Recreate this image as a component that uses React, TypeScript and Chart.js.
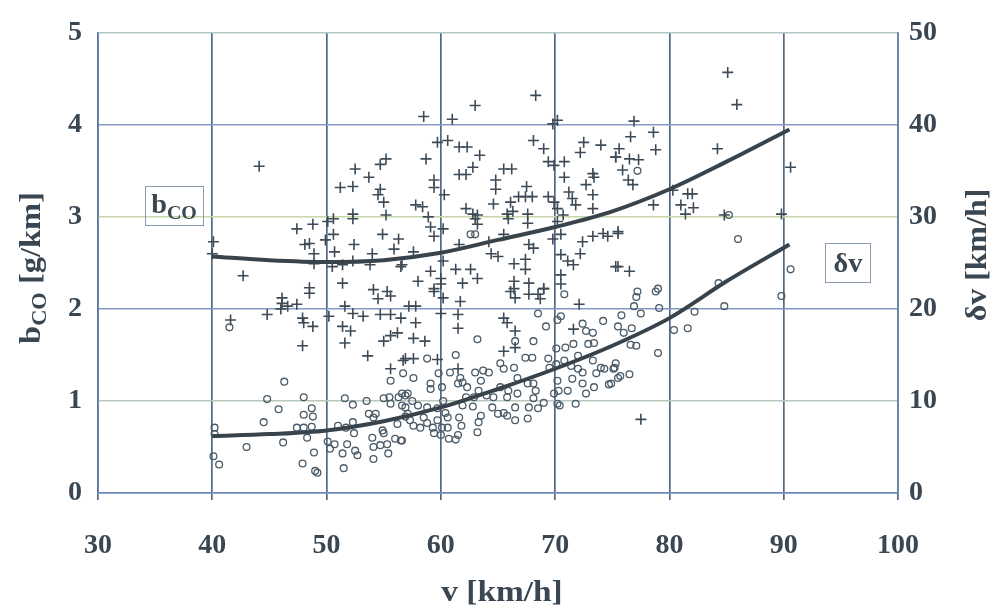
import React, { useEffect, useRef } from "react";
import { Chart, registerables } from "chart.js";
Chart.register(...registerables);

// speed axis ticks (km/h)
const vTicks = [30, 40, 50, 60, 70, 80, 90, 100];
const bcoTicks = [0, 1, 2, 3, 4, 5];
const dvTicks = [0, 10, 20, 30, 40, 50];

// measured b_CO [g/km] (crosses): [v, bCO]
const bcoPoints: number[][] = [
  [44.1,3.55],[40.1,2.73],[42.7,2.36],[47.4,2.87],[48.8,2.92],[48.1,2.70],[48.5,2.71],[48.9,2.60],[48.9,2.49],
  [50.1,2.95],[50.6,2.98],[49.9,2.75],[50.6,2.81],[50.5,2.46],[50.7,2.62],[51.2,3.32],[52.3,3.33],[52.5,3.52],
  [53.7,3.43],[55.2,3.63],[54.7,3.57],[54.7,3.30],[54.5,3.24],[55.0,3.16],[52.3,3.03],[52.3,2.98],[55.2,3.02],
  [54.9,2.81],[52.4,2.70],[54.0,2.60],[53.8,2.48],[52.3,2.52],[51.4,2.48],[55.9,2.65],[56.3,2.76],[56.5,2.46],
  [51.4,2.28],[48.5,2.23],[48.5,2.17],[54.1,2.21],[55.3,2.19],[46.1,2.12],
  [41.6,1.88],[46.1,2.06],[46.0,2.00],[44.8,1.94],[47.4,2.05],[46.6,2.03],[47.9,1.90],[48.0,1.85],[48.8,1.81],
  [47.9,1.60],[50.2,1.92],[51.6,2.03],[51.4,1.81],[52.1,1.76],[51.6,1.63],[52.3,1.95],[53.2,1.92],[53.6,1.49],
  [54.5,2.11],[55.6,2.14],[54.7,1.94],[55.6,1.94],[55.0,1.65],[55.6,1.71],[56.2,1.74],[55.6,1.35],[56.7,1.44],
  [56.5,1.90],
  [68.3,4.32],[63.0,4.21],[58.5,4.09],[61.0,4.06],[70.2,4.05],[69.8,4.01],[59.7,3.81],[60.6,3.83],[61.6,3.76],
  [62.3,3.76],[63.4,3.67],[58.7,3.63],[62.8,3.54],[61.6,3.46],[62.2,3.46],[59.4,3.40],[59.4,3.32],[60.3,3.24],
  [65.5,3.52],[66.2,3.52],[64.8,3.40],[64.8,3.30],[68.1,3.83],[69.0,3.74],[69.4,3.60],[69.9,3.56],[70.8,3.60],
  [70.8,3.43],[72.5,3.81],[72.2,3.70],[74.0,3.78],[75.3,3.65],[73.3,3.47],[73.4,3.43],[72.7,3.35],[67.5,3.33],
  [66.8,3.22],[67.4,3.22],[68.0,3.22],[66.1,3.16],[64.6,3.14],[69.4,3.22],[69.9,3.16],[71.2,3.27],[71.5,3.20],
  [71.8,3.13],[73.3,3.24],[73.3,3.09],[57.8,3.13],[58.4,3.11],[58.9,3.00],[62.2,3.09],[62.8,3.03],[63.2,3.02],
  [65.8,3.03],[66.3,3.06],[65.9,2.98],[67.6,3.03],[67.6,2.93],[70.2,3.09],[70.7,3.02],[70.2,2.95],[59.1,2.89],
  [60.2,2.87],[59.4,2.79],[63.0,2.98],[63.2,2.92],[65.5,2.81],[64.2,2.73],[61.6,2.70],[67.7,2.70],[68.1,2.66],
  [69.8,2.76],[70.5,2.81],[72.4,2.73],[72.2,2.60],[73.3,2.79],[74.2,2.82],[74.6,2.79],[75.5,2.84],[57.6,2.62],
  [56.6,2.48],[60.2,2.52],[59.1,2.41],[61.3,2.43],[62.6,2.43],[64.4,2.60],[65.0,2.57],[66.4,2.49],[67.4,2.54],
  [67.4,2.43],[70.5,2.59],[71.1,2.52],[71.6,2.48],[75.5,2.46],[58.0,2.30],[59.4,2.22],[61.9,2.28],[63.2,2.33],
  [66.4,2.30],[67.7,2.28],[69.0,2.22],[70.5,2.37],[66.1,2.19],[68.5,2.16],[60.0,2.33],
  [60.0,2.27],[59.4,2.19],[60.2,2.12],[61.7,2.08],[57.2,2.03],[57.8,2.03],[60.0,1.95],[61.5,1.94],[61.5,1.79],
  [57.8,1.85],[57.6,1.68],[58.6,1.65],[56.9,1.46],[57.6,1.46],[59.7,1.45],[61.5,1.35],[65.5,1.90],[65.8,1.85],
  [66.5,1.76],[66.5,1.58],[65.5,1.54],[66.4,2.22],[66.5,2.12],[67.7,2.16],[69.0,2.22],[68.7,2.11],[70.5,2.27],
  [72.1,2.05],[71.6,1.78],
  [85.1,4.57],[85.9,4.22],[76.9,4.04],[76.6,3.87],[78.6,3.92],[78.8,3.73],[75.6,3.74],[75.3,3.65],[76.5,3.63],
  [77.3,3.62],[75.9,3.51],[76.4,3.40],[76.8,3.35],[84.2,3.74],[90.6,3.54],[78.6,3.13],[81.0,3.13],[82.1,3.10],
  [81.6,3.25],[82.0,3.25],[80.3,3.29],[81.4,3.03],[84.8,3.02],[89.8,3.03],[75.5,2.82],[75.3,2.46],[76.5,2.41],
  [77.5,0.80],[40.0,2.60]
];

// measured speed fluctuation δv [km/h] (circles): [v, δv]
const dvPoints: number[][] = [
  [41.5,18.0],[40.2,7.1],[40.2,6.4],[40.1,4.0],[40.6,3.1],[43.0,5.0],[44.5,7.7],[44.8,10.2],[45.8,9.1],[46.3,12.1],
  [46.2,5.5],[47.4,7.1],[48.0,7.1],[48.0,10.4],[48.0,8.5],[48.7,9.2],[48.8,8.3],[48.7,7.2],[48.3,6.0],[48.9,4.4],
  [47.9,3.2],[49.0,2.4],[49.2,2.2],[50.1,5.6],[50.3,4.8],[50.7,5.3],[51.0,7.3],[51.4,4.3],[51.5,2.7],[51.7,7.1],
  [51.8,5.3],[51.6,10.3],[52.3,9.6],[52.3,7.7],[52.4,6.5],[52.5,4.6],[52.7,4.1],[53.5,10.0],[53.7,8.6],[54.1,8.2],
  [54.0,6.0],[54.1,5.0],[54.1,3.7],[54.3,8.6],[54.9,6.8],[55.0,6.5],[54.7,5.2],[55.3,5.3],[55.4,4.3],[55.0,10.3],
  [55.5,10.4],[55.6,9.7],[55.6,12.2],[56.3,10.4],[56.6,9.5],[56.2,7.5],[56.5,5.7],[56.0,5.9],[56.7,13.0],[57.1,10.8],
  [56.9,8.3],
  [70.8,21.6],[68.5,19.5],[69.2,18.1],[70.2,18.8],[70.5,19.2],[72.4,18.4],[72.7,17.6],[73.3,17.4],[74.2,18.7],
  [72.9,16.2],[73.4,16.3],[71.6,16.2],[70.9,15.8],[70.1,15.7],[68.1,16.5],[67.4,14.7],[68.0,14.7],[66.5,16.5],
  [63.2,16.7],[61.3,15.0],[58.8,14.6],[57.6,12.5],[65.2,14.1],[65.5,13.5],[66.4,13.6],[69.4,14.6],[70.1,14.0],
  [69.5,13.6],[70.8,14.4],[71.4,13.8],[72.0,13.5],[72.4,13.1],[73.3,14.4],[74.0,13.6],[74.3,13.5],[75.1,13.5],
  [75.5,12.5],[73.6,13.0],[73.4,11.5],[74.7,11.8],[72.7,10.8],[71.8,9.7],[72.4,11.9],[71.5,12.4],[71.1,11.1],
  [70.2,12.2],[70.3,11.1],[69.9,10.8],[70.2,9.7],[70.4,9.5],[67.6,11.9],[68.1,11.9],[68.3,11.1],[68.1,10.3],
  [68.5,9.2],[67.7,9.3],[69.0,9.8],[67.6,8.1],[66.5,7.9],[66.7,12.5],[66.7,10.8],[66.5,9.3],[65.8,10.4],
  [65.9,11.1],[65.2,11.5],[64.6,10.4],[64.5,9.3],[65.0,8.6],[65.5,8.7],[65.8,8.4],[64.0,10.6],[64.2,13.1],
  [63.7,13.3],[63.0,13.1],[63.5,12.2],[63.3,11.1],[63.5,8.4],[63.3,7.7],[63.2,6.6],[62.9,10.4],[62.8,9.4],
  [62.2,10.4],[61.9,9.5],[62.3,11.5],[61.9,12.0],[61.5,11.9],[61.6,8.2],[61.8,7.3],[61.5,6.3],[61.3,5.8],
  [60.7,5.9],[60.6,7.1],[60.6,8.2],[60.1,7.1],[60.0,6.3],[59.4,6.5],[59.3,7.1],[59.7,7.9],[58.8,7.6],
  [58.5,8.2],[58.2,7.1],[57.6,7.3],[57.3,7.9],[57.1,8.6],[56.9,9.3],[56.9,10.6],[57.5,10.0],[58.0,9.5],
  [58.8,9.3],[59.7,9.2],[60.2,10.0],[60.4,8.7],[59.1,11.9],[59.1,11.3],[60.1,11.5],[59.8,13.0],[60.8,13.1],
  [61.7,12.5],[56.6,5.7],[56.6,10.8],[72.0,14.9],[62.6,28.1],[63.0,28.1],
  [77.2,35.0],[85.2,30.2],[86.0,27.6],[90.6,24.3],[84.3,22.8],[89.8,21.4],[84.8,20.3],[82.2,19.7],[81.6,17.9],
  [80.4,17.7],[79.0,15.2],[79.0,22.2],[78.8,21.9],[77.2,21.9],[77.1,21.3],[76.9,20.3],[77.5,19.5],[79.1,20.1],
  [75.8,19.3],[75.5,18.1],[76.7,17.9],[76.0,17.4],[76.6,16.1],[77.1,16.0],[75.3,14.1],[75.2,13.6],[75.7,12.7],
  [76.5,12.9],[74.9,11.9]
];

// fitted curves
const curveV = [40, 45, 50, 55, 60, 65, 70, 75, 80, 85, 90.5];
const bcoCurve = [2.57, 2.53, 2.51, 2.53, 2.61, 2.75, 2.89, 3.06, 3.30, 3.60, 3.95];
const dvCurve = [6.2, 6.4, 6.8, 7.8, 9.3, 11.3, 13.5, 16.0, 19.0, 23.0, 27.0];

const FONT = '"Liberation Serif", "Times New Roman", serif';
const TEXT = "#3a4752";

type Part = { t: string; sub?: boolean };

function drawRich(ctx: CanvasRenderingContext2D, parts: Part[], size: number, stretch = 1.15) {
  const subSize = Math.round(size * 0.7);
  ctx.scale(stretch, 1);
  const widths = parts.map((p) => {
    ctx.font = `bold ${p.sub ? subSize : size}px ${FONT}`;
    return ctx.measureText(p.t).width;
  });
  const total = widths.reduce((a, b) => a + b, 0);
  let x = -total / 2;
  ctx.textBaseline = "alphabetic";
  ctx.textAlign = "left";
  parts.forEach((p, i) => {
    ctx.font = `bold ${p.sub ? subSize : size}px ${FONT}`;
    ctx.fillText(p.t, x, size * 0.33 + (p.sub ? size * 0.22 : 0));
    x += widths[i];
  });
}

const textPlugin = {
  id: "textPlugin",
  afterDraw(chart: any) {
    const ctx: CanvasRenderingContext2D = chart.ctx;
    ctx.save();
    ctx.fillStyle = TEXT;
    // left axis title
    ctx.save();
    ctx.translate(30, 268);
    ctx.rotate(-Math.PI / 2);
    drawRich(ctx, [{ t: "b" }, { t: "CO", sub: true }, { t: " [g/km]" }], 29, 1.12);
    ctx.restore();
    // right axis title
    ctx.save();
    ctx.translate(976, 255);
    ctx.rotate(-Math.PI / 2);
    drawRich(ctx, [{ t: "δv [km/h]" }], 29, 1.1);
    ctx.restore();
    // x axis title
    ctx.save();
    ctx.translate(502, 591);
    drawRich(ctx, [{ t: "v [km/h]" }], 29, 1.15);
    ctx.restore();
    // legend boxes
    ctx.strokeStyle = "#8a9ab4";
    ctx.lineWidth = 1;
    ctx.strokeRect(145.5, 186.5, 58, 39);
    ctx.strokeRect(825.5, 243.5, 45, 39);
    ctx.save();
    ctx.translate(174, 204);
    drawRich(ctx, [{ t: "b" }, { t: "CO", sub: true }], 27, 1.05);
    ctx.restore();
    ctx.save();
    ctx.translate(848, 263);
    drawRich(ctx, [{ t: "δv" }], 27, 1.05);
    ctx.restore();
    ctx.restore();
  },
};

const hGridColors: Record<number, string> = {
  0: "#6f88c0",
  1: "#b8c8bc",
  2: "#8498c4",
  3: "#c6d6a6",
  4: "#8a9ac6",
  5: "#b0c8c8",
};

export default function App() {
  const ref = useRef<HTMLCanvasElement | null>(null);
  useEffect(() => {
    document.body.style.margin = "0";
    const canvas = ref.current;
    if (!canvas) return;
    const tickFont = { family: FONT, size: 28, weight: "bold" as const };
    const chart = new Chart(canvas, {
      type: "scatter",
      data: {
        datasets: [
          {
            label: "bCO curve",
            type: "line",
            data: curveV.map((v, i) => ({ x: v, y: bcoCurve[i] })),
            borderColor: "#38434c",
            borderWidth: 4,
            pointRadius: 0,
            showLine: true,
            cubicInterpolationMode: "monotone",
            yAxisID: "y",
            order: 0,
          } as any,
          {
            label: "dv curve",
            type: "line",
            data: curveV.map((v, i) => ({ x: v, y: dvCurve[i] })),
            borderColor: "#38434c",
            borderWidth: 4,
            pointRadius: 0,
            showLine: true,
            cubicInterpolationMode: "monotone",
            yAxisID: "y1",
            order: 0,
          } as any,
          {
            label: "bCO",
            data: bcoPoints.map((p) => ({ x: p[0], y: p[1] })),
            pointStyle: "cross",
            pointRadius: 5.5,
            borderColor: "#3e4b57",
            borderWidth: 1.6,
            yAxisID: "y",
            order: 1,
          },
          {
            label: "δv",
            data: dvPoints.map((p) => ({ x: p[0], y: p[1] })),
            pointStyle: "circle",
            pointRadius: 3.4,
            borderColor: "#4b5b68",
            backgroundColor: "rgba(255,255,255,0)",
            borderWidth: 1.3,
            yAxisID: "y1",
            order: 1,
          },
        ],
      },
      options: {
        animation: false,
        responsive: false,
        layout: { padding: { top: 30, left: 0, right: 0, bottom: 0 } },
        plugins: { legend: { display: false }, tooltip: { enabled: false } },
        scales: {
          x: {
            type: "linear",
            min: vTicks[0],
            max: vTicks[vTicks.length - 1],
            afterBuildTicks: (s: any) => {
              s.ticks = vTicks.map((v) => ({ value: v }));
            },
            afterFit: (s: any) => {
              s.height = 117;
            },
            ticks: { font: tickFont, color: TEXT, padding: 29, maxRotation: 0 },
            grid: {
              color: "#4f6985",
              lineWidth: 1.7,
              tickLength: 7,
            },
            border: { display: true, color: "#6f88c0", width: 1.5 },
          },
          y: {
            type: "linear",
            position: "left",
            min: 0,
            max: 5,
            afterBuildTicks: (s: any) => {
              s.ticks = bcoTicks.map((v) => ({ value: v }));
            },
            afterFit: (s: any) => {
              s.width = 98;
            },
            ticks: { font: tickFont, color: TEXT, padding: 16 },
            grid: {
              color: (c: any) => hGridColors[c.tick?.value] || "#8498c4",
              lineWidth: 1.5,
              drawTicks: false,
            },
            border: { display: true, color: "#5d78a8", width: 1.5 },
          },
          y1: {
            type: "linear",
            position: "right",
            min: 0,
            max: 50,
            afterBuildTicks: (s: any) => {
              s.ticks = dvTicks.map((v) => ({ value: v }));
            },
            afterFit: (s: any) => {
              s.width = 97;
            },
            ticks: { font: tickFont, color: TEXT, padding: 11 },
            grid: { drawOnChartArea: false, drawTicks: false },
            border: { display: true, color: "#5d86a8", width: 1.5 },
          },
        },
      },
      plugins: [textPlugin],
    });
    return () => chart.destroy();
  }, []);
  return (
    <div style={{ width: 995, height: 610, background: "#fff" }}>
      <canvas ref={ref} width={995} height={610} style={{ display: "block" }} />
    </div>
  );
}
